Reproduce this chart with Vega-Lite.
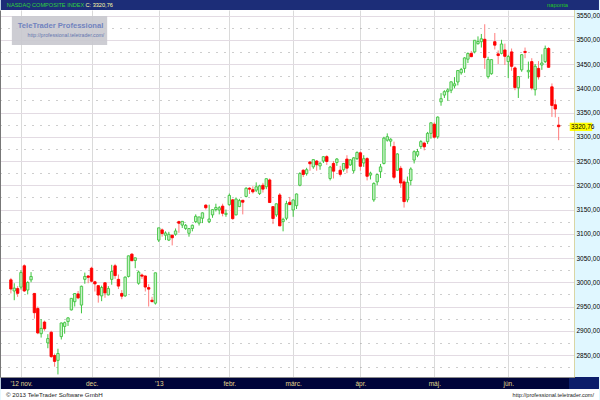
{
  "$schema": "https://vega.github.io/schema/vega-lite/v6.json",
  "width": 574,
  "height": 367,
  "autosize": {"type": "none"},
  "padding": {"left": 0, "top": 10, "right": 26, "bottom": 23},
  "background": "#e0f7ff",
  "config": {"view": {"stroke": null, "fill": "#ffffff"}, "font": "Liberation Sans, Arial, sans-serif"},
  "data": {"values": [
    {"date":"2012-10-25","o":3005,"h":3009,"l":2977,"c":2986.12},
    {"date":"2012-10-26","o":2982,"h":2998,"l":2963,"c":2987.95},
    {"date":"2012-10-31","o":2987,"h":2992,"l":2970,"c":2977.23},
    {"date":"2012-11-01","o":2990,"h":3025,"l":2985,"c":3020.06},
    {"date":"2012-11-02","o":3034,"h":3037,"l":2980,"c":2982.13},
    {"date":"2012-11-05","o":2984,"h":3002,"l":2975,"c":2999.66},
    {"date":"2012-11-06","o":3005,"h":3021,"l":3000,"c":3011.93},
    {"date":"2012-11-07","o":2977,"h":2978,"l":2925,"c":2937.29},
    {"date":"2012-11-08","o":2946,"h":2950,"l":2893,"c":2895.58},
    {"date":"2012-11-09","o":2894,"h":2924,"l":2886,"c":2904.87},
    {"date":"2012-11-12","o":2918,"h":2921,"l":2900,"c":2904.26},
    {"date":"2012-11-13","o":2875,"h":2893,"l":2864,"c":2883.89},
    {"date":"2012-11-14","o":2897,"h":2900,"l":2844,"c":2846.81},
    {"date":"2012-11-15","o":2849,"h":2853,"l":2826,"c":2836.94},
    {"date":"2012-11-16","o":2839,"h":2863,"l":2810,"c":2853.13},
    {"date":"2012-11-19","o":2888,"h":2917,"l":2882,"c":2916.07},
    {"date":"2012-11-20","o":2909,"h":2919,"l":2894,"c":2916.68},
    {"date":"2012-11-21","o":2919,"h":2928,"l":2910,"c":2926.55},
    {"date":"2012-11-23","o":2943,"h":2967,"l":2942,"c":2966.85},
    {"date":"2012-11-26","o":2960,"h":2977,"l":2950,"c":2976.78},
    {"date":"2012-11-27","o":2976,"h":2982,"l":2965,"c":2967.79},
    {"date":"2012-11-28","o":2953,"h":2993,"l":2936,"c":2991.78},
    {"date":"2012-11-29","o":3006,"h":3020,"l":2997,"c":3012.03},
    {"date":"2012-11-30","o":3013,"h":3015,"l":2998,"c":3010.24},
    {"date":"2012-12-03","o":3029,"h":3032,"l":3000,"c":3002.20},
    {"date":"2012-12-04","o":3001,"h":3003,"l":2981,"c":2996.69},
    {"date":"2012-12-05","o":2993,"h":2994,"l":2958,"c":2973.70},
    {"date":"2012-12-06","o":2972,"h":2993,"l":2961,"c":2989.27},
    {"date":"2012-12-07","o":2999,"h":3000,"l":2968,"c":2978.04},
    {"date":"2012-12-10","o":2974,"h":2992,"l":2973,"c":2986.96},
    {"date":"2012-12-11","o":3006,"h":3036,"l":2995,"c":3022.30},
    {"date":"2012-12-12","o":3034,"h":3038,"l":3007,"c":3013.81},
    {"date":"2012-12-13","o":3006,"h":3016,"l":2986,"c":2992.16},
    {"date":"2012-12-14","o":2977,"h":2984,"l":2965,"c":2971.33},
    {"date":"2012-12-17","o":2972,"h":3012,"l":2970,"c":3010.60},
    {"date":"2012-12-18","o":3012,"h":3055,"l":3010,"c":3054.53},
    {"date":"2012-12-19","o":3058,"h":3060,"l":3044,"c":3044.36},
    {"date":"2012-12-20","o":3045,"h":3051,"l":3029,"c":3050.39},
    {"date":"2012-12-21","o":2998,"h":3024,"l":2995,"c":3021.01},
    {"date":"2012-12-24","o":3015,"h":3018,"l":3007,"c":3012.60},
    {"date":"2012-12-26","o":3013,"h":3014,"l":2981,"c":2990.16},
    {"date":"2012-12-27","o":2989,"h":2996,"l":2950,"c":2985.91},
    {"date":"2012-12-28","o":2963,"h":2970,"l":2958,"c":2960.31},
    {"date":"2012-12-31","o":2957,"h":3020,"l":2954,"c":3019.51},
    {"date":"2013-01-02","o":3087,"h":3112,"l":3083,"c":3112.26},
    {"date":"2013-01-03","o":3108,"h":3111,"l":3094,"c":3100.57},
    {"date":"2013-01-04","o":3097,"h":3105,"l":3087,"c":3101.66},
    {"date":"2013-01-07","o":3087,"h":3104,"l":3085,"c":3098.81},
    {"date":"2013-01-08","o":3097,"h":3098,"l":3076,"c":3091.81},
    {"date":"2013-01-09","o":3099,"h":3111,"l":3096,"c":3105.81},
    {"date":"2013-01-10","o":3125,"h":3127,"l":3102,"c":3121.76},
    {"date":"2013-01-11","o":3118,"h":3126,"l":3112,"c":3125.63},
    {"date":"2013-01-14","o":3111,"h":3120,"l":3108,"c":3117.50},
    {"date":"2013-01-15","o":3101,"h":3112,"l":3094,"c":3110.78},
    {"date":"2013-01-16","o":3111,"h":3119,"l":3105,"c":3117.54},
    {"date":"2013-01-17","o":3125,"h":3140,"l":3122,"c":3136.00},
    {"date":"2013-01-18","o":3122,"h":3135,"l":3117,"c":3134.71},
    {"date":"2013-01-22","o":3132,"h":3144,"l":3122,"c":3143.18},
    {"date":"2013-01-23","o":3159,"h":3161,"l":3150,"c":3153.67},
    {"date":"2013-01-24","o":3125,"h":3160,"l":3122,"c":3130.38},
    {"date":"2013-01-25","o":3139,"h":3150,"l":3133,"c":3149.71},
    {"date":"2013-01-28","o":3150,"h":3162,"l":3146,"c":3154.30},
    {"date":"2013-01-29","o":3149,"h":3157,"l":3140,"c":3153.66},
    {"date":"2013-01-30","o":3157,"h":3162,"l":3136,"c":3142.31},
    {"date":"2013-01-31","o":3140,"h":3150,"l":3135,"c":3142.13},
    {"date":"2013-02-01","o":3160,"h":3183,"l":3158,"c":3179.10},
    {"date":"2013-02-04","o":3170,"h":3172,"l":3129,"c":3131.17},
    {"date":"2013-02-05","o":3139,"h":3175,"l":3138,"c":3171.58},
    {"date":"2013-02-06","o":3156,"h":3172,"l":3155,"c":3168.48},
    {"date":"2013-02-07","o":3169,"h":3170,"l":3140,"c":3165.13},
    {"date":"2013-02-08","o":3177,"h":3196,"l":3175,"c":3193.87},
    {"date":"2013-02-11","o":3194,"h":3196,"l":3182,"c":3192.00},
    {"date":"2013-02-12","o":3191,"h":3198,"l":3183,"c":3186.49},
    {"date":"2013-02-13","o":3190,"h":3206,"l":3186,"c":3196.88},
    {"date":"2013-02-14","o":3183,"h":3201,"l":3180,"c":3198.66},
    {"date":"2013-02-15","o":3200,"h":3205,"l":3185,"c":3192.03},
    {"date":"2013-02-19","o":3197,"h":3214,"l":3192,"c":3213.59},
    {"date":"2013-02-20","o":3211,"h":3214,"l":3164,"c":3164.41},
    {"date":"2013-02-21","o":3156,"h":3157,"l":3120,"c":3131.49},
    {"date":"2013-02-22","o":3139,"h":3162,"l":3135,"c":3161.82},
    {"date":"2013-02-25","o":3180,"h":3184,"l":3116,"c":3116.25},
    {"date":"2013-02-26","o":3125,"h":3133,"l":3105,"c":3129.65},
    {"date":"2013-02-27","o":3132,"h":3168,"l":3128,"c":3162.26},
    {"date":"2013-02-28","o":3165,"h":3176,"l":3159,"c":3160.19},
    {"date":"2013-03-01","o":3149,"h":3171,"l":3135,"c":3169.74},
    {"date":"2013-03-04","o":3158,"h":3183,"l":3151,"c":3182.03},
    {"date":"2013-03-05","o":3200,"h":3227,"l":3198,"c":3224.13},
    {"date":"2013-03-06","o":3231,"h":3233,"l":3217,"c":3222.37},
    {"date":"2013-03-07","o":3224,"h":3236,"l":3220,"c":3232.09},
    {"date":"2013-03-08","o":3248,"h":3250,"l":3230,"c":3244.37},
    {"date":"2013-03-11","o":3238,"h":3253,"l":3234,"c":3252.87},
    {"date":"2013-03-12","o":3250,"h":3252,"l":3230,"c":3242.32},
    {"date":"2013-03-13","o":3240,"h":3248,"l":3232,"c":3245.12},
    {"date":"2013-03-14","o":3250,"h":3260,"l":3246,"c":3258.93},
    {"date":"2013-03-15","o":3259,"h":3262,"l":3242,"c":3249.07},
    {"date":"2013-03-18","o":3214,"h":3240,"l":3210,"c":3237.59},
    {"date":"2013-03-19","o":3245,"h":3250,"l":3214,"c":3229.10},
    {"date":"2013-03-20","o":3247,"h":3256,"l":3240,"c":3254.19},
    {"date":"2013-03-21","o":3231,"h":3240,"l":3218,"c":3222.60},
    {"date":"2013-03-22","o":3232,"h":3246,"l":3228,"c":3245.00},
    {"date":"2013-03-25","o":3254,"h":3262,"l":3225,"c":3235.30},
    {"date":"2013-03-26","o":3242,"h":3254,"l":3240,"c":3252.48},
    {"date":"2013-03-27","o":3230,"h":3258,"l":3225,"c":3256.52},
    {"date":"2013-03-28","o":3255,"h":3270,"l":3252,"c":3267.52},
    {"date":"2013-04-01","o":3267,"h":3270,"l":3230,"c":3239.17},
    {"date":"2013-04-02","o":3246,"h":3262,"l":3238,"c":3254.86},
    {"date":"2013-04-03","o":3255,"h":3258,"l":3210,"c":3218.60},
    {"date":"2013-04-04","o":3221,"h":3228,"l":3212,"c":3224.98},
    {"date":"2013-04-05","o":3170,"h":3206,"l":3166,"c":3203.86},
    {"date":"2013-04-08","o":3207,"h":3223,"l":3200,"c":3222.25},
    {"date":"2013-04-09","o":3228,"h":3244,"l":3215,"c":3237.86},
    {"date":"2013-04-10","o":3245,"h":3300,"l":3243,"c":3297.25},
    {"date":"2013-04-11","o":3293,"h":3307,"l":3290,"c":3300.16},
    {"date":"2013-04-12","o":3291,"h":3297,"l":3280,"c":3294.95},
    {"date":"2013-04-15","o":3280,"h":3290,"l":3212,"c":3216.49},
    {"date":"2013-04-16","o":3231,"h":3266,"l":3230,"c":3264.63},
    {"date":"2013-04-17","o":3235,"h":3240,"l":3195,"c":3204.67},
    {"date":"2013-04-18","o":3207,"h":3212,"l":3154,"c":3166.36},
    {"date":"2013-04-19","o":3170,"h":3218,"l":3165,"c":3206.06},
    {"date":"2013-04-22","o":3210,"h":3237,"l":3200,"c":3233.55},
    {"date":"2013-04-23","o":3252,"h":3272,"l":3245,"c":3269.33},
    {"date":"2013-04-24","o":3262,"h":3275,"l":3258,"c":3269.64},
    {"date":"2013-04-25","o":3280,"h":3293,"l":3275,"c":3289.99},
    {"date":"2013-04-26","o":3287,"h":3290,"l":3272,"c":3279.26},
    {"date":"2013-04-29","o":3290,"h":3310,"l":3285,"c":3307.02},
    {"date":"2013-04-30","o":3307,"h":3330,"l":3296,"c":3328.79},
    {"date":"2013-05-01","o":3326,"h":3330,"l":3296,"c":3299.13},
    {"date":"2013-05-02","o":3300,"h":3342,"l":3296,"c":3340.62},
    {"date":"2013-05-03","o":3372,"h":3390,"l":3364,"c":3378.63},
    {"date":"2013-05-06","o":3386,"h":3396,"l":3380,"c":3392.97},
    {"date":"2013-05-07","o":3393,"h":3400,"l":3374,"c":3396.63},
    {"date":"2013-05-08","o":3396,"h":3414,"l":3390,"c":3413.27},
    {"date":"2013-05-09","o":3405,"h":3423,"l":3400,"c":3409.17},
    {"date":"2013-05-10","o":3413,"h":3437,"l":3406,"c":3436.58},
    {"date":"2013-05-13","o":3432,"h":3442,"l":3428,"c":3438.79},
    {"date":"2013-05-14","o":3441,"h":3464,"l":3432,"c":3462.61},
    {"date":"2013-05-15","o":3460,"h":3474,"l":3452,"c":3471.62},
    {"date":"2013-05-16","o":3472,"h":3477,"l":3464,"c":3465.24},
    {"date":"2013-05-17","o":3475,"h":3499,"l":3472,"c":3498.97},
    {"date":"2013-05-20","o":3492,"h":3507,"l":3490,"c":3496.43},
    {"date":"2013-05-21","o":3496,"h":3512,"l":3484,"c":3502.12},
    {"date":"2013-05-22","o":3501,"h":3532,"l":3440,"c":3463.30},
    {"date":"2013-05-23","o":3424,"h":3465,"l":3420,"c":3459.42},
    {"date":"2013-05-24","o":3430,"h":3460,"l":3428,"c":3459.14},
    {"date":"2013-05-28","o":3496,"h":3514,"l":3480,"c":3488.89},
    {"date":"2013-05-29","o":3471,"h":3478,"l":3450,"c":3467.52},
    {"date":"2013-05-30","o":3472,"h":3500,"l":3470,"c":3491.30},
    {"date":"2013-05-31","o":3479,"h":3492,"l":3448,"c":3465.91},
    {"date":"2013-06-03","o":3455,"h":3469,"l":3421,"c":3465.37},
    {"date":"2013-06-04","o":3475,"h":3482,"l":3436,"c":3445.26},
    {"date":"2013-06-05","o":3442,"h":3445,"l":3396,"c":3401.48},
    {"date":"2013-06-06","o":3401,"h":3425,"l":3380,"c":3424.05},
    {"date":"2013-06-07","o":3438,"h":3470,"l":3434,"c":3469.22},
    {"date":"2013-06-10","o":3476,"h":3484,"l":3462,"c":3473.77},
    {"date":"2013-06-11","o":3434,"h":3455,"l":3420,"c":3436.95},
    {"date":"2013-06-12","o":3455,"h":3462,"l":3396,"c":3400.43},
    {"date":"2013-06-13","o":3397,"h":3450,"l":3385,"c":3445.36},
    {"date":"2013-06-14","o":3441,"h":3456,"l":3418,"c":3423.56},
    {"date":"2013-06-17","o":3448,"h":3470,"l":3438,"c":3452.13},
    {"date":"2013-06-18","o":3455,"h":3488,"l":3452,"c":3482.18},
    {"date":"2013-06-19","o":3482,"h":3485,"l":3443,"c":3443.20},
    {"date":"2013-06-20","o":3403,"h":3410,"l":3341,"c":3364.64},
    {"date":"2013-06-21","o":3366,"h":3377,"l":3340,"c":3357.25},
    {"date":"2013-06-24","o":3324,"h":3341,"l":3293,"c":3320.76}
  ]},
  "transform": [{"window": [{"op": "row_number", "as": "n"}]}],
  "resolve": {"axis": {"y": "independent", "x": "independent"}},
  "layer": [
    {
      "data": {"values": [{}]},
      "mark": {"type": "rect", "color": "#1c2d78"},
      "encoding": {
        "x": {"datum": -2, "type": "quantitative", "scale": {"domain": [-0.754, 167.08], "nice": false, "zero": false}, "axis": null},
        "x2": {"datum": 176},
        "y": {"datum": 3561.4, "type": "quantitative", "scale": {"domain": [2804.7, 3561.4], "nice": false, "zero": false}, "axis": null},
        "y2": {"datum": 3590}
      }
    },
    {
      "data": {"values": [{}]},
      "mark": {"type": "rect", "color": "#00043a"},
      "encoding": {
        "x": {"datum": -2, "type": "quantitative", "axis": null},
        "x2": {"datum": 167.08},
        "y": {"datum": 2804.7, "type": "quantitative", "axis": null},
        "y2": {"datum": 2780.0}
      }
    },
    {
      "data": {"values": [{}]},
      "mark": {"type": "rect", "color": "#0c1d6a"},
      "encoding": {
        "x": {"datum": 167.08, "type": "quantitative", "axis": null},
        "x2": {"datum": 176},
        "y": {"datum": 2804.7, "type": "quantitative", "axis": null},
        "y2": {"datum": 2780.0}
      }
    },
    {
      "data": {"values": [{}]},
      "mark": {"type": "rect", "color": "#ffffff"},
      "encoding": {
        "x": {"datum": -2, "type": "quantitative", "axis": null},
        "x2": {"datum": 176},
        "y": {"datum": 2780.0, "type": "quantitative", "axis": null},
        "y2": {"datum": 2740}
      }
    },
    {
      "mark": {"type": "bar", "size": 2.4, "strokeWidth": 0.9, "opacity": 0},
      "encoding": {
        "x": {"field": "n", "type": "quantitative",
          "axis": {"orient": "bottom", "values": [4, 25, 45, 66, 85, 105, 127, 149], "grid": true, "gridColor": "#dadada", "labels": false, "ticks": false, "domain": false, "title": null, "zindex": 0}},
        "y": {"field": "o", "type": "quantitative",
          "axis": {"orient": "left", "values": [2825, 2850, 2875, 2900, 2925, 2950, 2975, 3000, 3025, 3050, 3075, 3100, 3125, 3150, 3175, 3200, 3225, 3250, 3275, 3300, 3325, 3350, 3375, 3400, 3425, 3450, 3475, 3500, 3525, 3550],
            "grid": true,
            "gridColor": {"condition": {"test": "datum.value % 50 == 0", "value": "#e3dbe3"}, "value": "#9a9a9a"},
            "gridDash": {"condition": {"test": "datum.value % 50 == 0", "value": []}, "value": [1, 7]},
            "labels": false, "ticks": false, "domain": true, "domainColor": "#777777", "title": null, "zindex": 0}},
        "y2": {"field": "c"}
      }
    },
    {
      "mark": {"type": "rule", "strokeWidth": 1},
      "encoding": {
        "x": {"field": "n", "type": "quantitative",
          "axis": {"orient": "bottom", "values": [4, 25, 45, 66, 85, 105, 127, 149],
            "labelExpr": "datum.value == 4 ? \"'12 nov.\" : datum.value == 25 ? 'dec.' : datum.value == 45 ? \"'13\" : datum.value == 66 ? 'febr.' : datum.value == 85 ? 'márc.' : datum.value == 105 ? 'ápr.' : datum.value == 127 ? 'máj.' : 'jún.'",
            "grid": false, "ticks": false, "domain": true, "domainColor": "#8c8c8c",
            "labelColor": "#e2d68e", "labelFontSize": 6.5, "labelPadding": 6, "labelBaseline": "middle", "labelFlush": false, "labelOverlap": false, "title": null, "zindex": 1}},
        "y": {"field": "l", "type": "quantitative",
          "axis": {"orient": "right", "values": [2850, 2900, 2950, 3000, 3050, 3100, 3150, 3200, 3250, 3300, 3350, 3400, 3450, 3500, 3550],
            "labelExpr": "replace(format(datum.value, '.2f'), '.', ',')",
            "grid": false, "ticks": false, "domain": true, "domainColor": "#d2b44a", "domainDash": [1, 1],
            "labelColor": "#000000", "labelFontSize": 6.5, "labelPadding": 2, "title": null, "zindex": 1}},
        "y2": {"field": "h"},
        "color": {"condition": {"test": "datum.c >= datum.o", "value": "#3fc43f"}, "value": "#ff7c7c"}
      }
    },
    {
      "mark": {"type": "bar", "size": 2.4, "strokeWidth": 0.9},
      "encoding": {
        "x": {"field": "n", "type": "quantitative", "axis": null},
        "y": {"field": "o", "type": "quantitative", "axis": null},
        "y2": {"field": "c"},
        "fill": {"condition": {"test": "datum.c >= datum.o", "value": "#c9f2c9"}, "value": "#ff0000"},
        "stroke": {"condition": {"test": "datum.c >= datum.o", "value": "#3fc43f"}, "value": "#ff0000"}
      }
    },
    {
      "data": {"values": [{}]},
      "mark": {"type": "rect", "color": "#c9c9cf", "opacity": 0.92},
      "encoding": {
        "x": {"datum": 1.29, "type": "quantitative", "axis": null},
        "x2": {"datum": 29.65},
        "y": {"datum": 3549, "type": "quantitative", "axis": null},
        "y2": {"datum": 3489}
      }
    },
    {
      "data": {"values": [{"t": "TeleTrader Professional"}]},
      "mark": {"type": "text", "align": "left", "baseline": "middle", "fontSize": 7.6, "fontWeight": "bold", "color": "#7183bf"},
      "encoding": {
        "x": {"datum": 3.05, "type": "quantitative", "axis": null},
        "y": {"datum": 3529, "type": "quantitative", "axis": null},
        "text": {"field": "t"}
      }
    },
    {
      "data": {"values": [{"t": "http://professional.teletrader.com/"}]},
      "mark": {"type": "text", "align": "left", "baseline": "middle", "fontSize": 5.2, "color": "#6677b0"},
      "encoding": {
        "x": {"datum": 5.97, "type": "quantitative", "axis": null},
        "y": {"datum": 3509, "type": "quantitative", "axis": null},
        "text": {"field": "t"}
      }
    },
    {
      "data": {"values": [{}]},
      "mark": {"type": "rect", "color": "#ffff00"},
      "encoding": {
        "x": {"datum": 167.3, "type": "quantitative", "axis": null},
        "x2": {"datum": 174.0},
        "y": {"datum": 3329, "type": "quantitative", "axis": null},
        "y2": {"datum": 3312}
      }
    },
    {
      "data": {"values": [{"t": "3320,76"}]},
      "mark": {"type": "text", "align": "left", "baseline": "middle", "fontSize": 6.5, "color": "#000000"},
      "encoding": {
        "x": {"datum": 167.67, "type": "quantitative", "axis": null},
        "y": {"datum": 3320.76, "type": "quantitative", "axis": null},
        "text": {"field": "t"}
      }
    },
    {
      "data": {"values": [{"t": "NASDAQ COMPOSITE INDEX"}]},
      "mark": {"type": "text", "align": "left", "baseline": "middle", "fontSize": 5.6, "color": "#2fd03c"},
      "encoding": {
        "x": {"datum": -0.2, "type": "quantitative", "axis": null},
        "y": {"datum": 3571.7, "type": "quantitative", "axis": null},
        "text": {"field": "t"}
      }
    },
    {
      "data": {"values": [{"t": "C: 3320,76"}]},
      "mark": {"type": "text", "align": "left", "baseline": "middle", "fontSize": 5.6, "color": "#ffffa8"},
      "encoding": {
        "x": {"datum": 23.2, "type": "quantitative", "axis": null},
        "y": {"datum": 3571.7, "type": "quantitative", "axis": null},
        "text": {"field": "t"}
      }
    },
    {
      "data": {"values": [{"t": "naponta"}]},
      "mark": {"type": "text", "align": "right", "baseline": "middle", "fontSize": 5.8, "color": "#22c822"},
      "encoding": {
        "x": {"datum": 166.8, "type": "quantitative", "axis": null},
        "y": {"datum": 3571.7, "type": "quantitative", "axis": null},
        "text": {"field": "t"}
      }
    },
    {
      "data": {"values": [{"t": "© 2013 TeleTrader Software GmbH"}]},
      "mark": {"type": "text", "align": "left", "baseline": "middle", "fontSize": 6.2, "color": "#222222"},
      "encoding": {
        "x": {"datum": -0.46, "type": "quantitative", "axis": null},
        "y": {"datum": 2767.6, "type": "quantitative", "axis": null},
        "text": {"field": "t"}
      }
    },
    {
      "data": {"values": [{"t": "http://professional.teletrader.com/"}]},
      "mark": {"type": "text", "align": "right", "baseline": "middle", "fontSize": 5.5, "color": "#222222"},
      "encoding": {
        "x": {"datum": 174.5, "type": "quantitative", "axis": null},
        "y": {"datum": 2767.6, "type": "quantitative", "axis": null},
        "text": {"field": "t"}
      }
    }
  ]
}
